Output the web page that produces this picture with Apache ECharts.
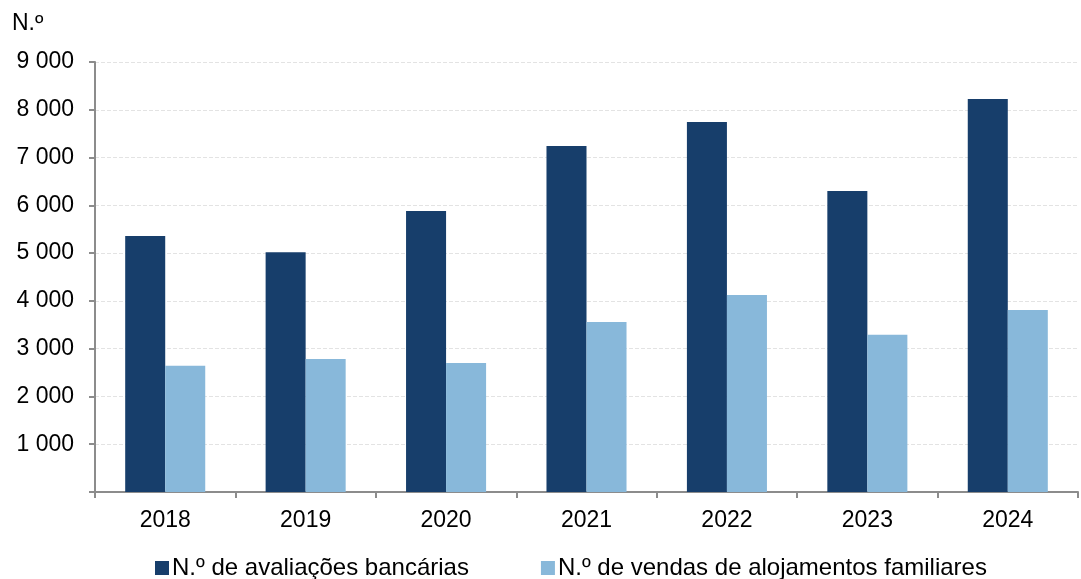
<!DOCTYPE html>
<html>
<head>
<meta charset="utf-8">
<script src="https://cdn.jsdelivr.net/npm/echarts@6/dist/echarts.min.js"></script>
<style>
  html, body { margin: 0; padding: 0; background: #fff; }
  #chart { width: 1081px; height: 579px; }
</style>
</head>
<body>
<div id="chart"></div>
<script>
// Years on the category axis
const years = ['2018', '2019', '2020', '2021', '2022', '2023', '2024'];
// Number of bank valuations per year
const avaliacoes = [5360, 5020, 5880, 7240, 7745, 6300, 8225];
// Number of family dwelling sales per year
const vendas = [2640, 2785, 2700, 3560, 4125, 3290, 3810];
// Series names shown in the legend
const seriesNames = ['N.º de avaliações bancárias', 'N.º de vendas de alojamentos familiares'];
// Unit label above the value axis
const unitLabel = 'N.º';

const fontFamily = 'Liberation Sans, Arial, sans-serif';

function fmtThousands(v) {
  if (v === 0) return '';
  return String(v).replace(/\B(?=(\d{3})+(?!\d))/g, ' ');
}

const chart = echarts.init(document.getElementById('chart'));
chart.setOption({
  animation: false,
  textStyle: { fontFamily: fontFamily },
  title: {
    text: unitLabel,
    left: 12,
    top: 12,
    padding: 0,
    textStyle: { fontSize: 23, fontWeight: 'normal', color: '#000', fontFamily: fontFamily }
  },
  grid: { left: 95, right: 3, top: 62, bottom: 87, containLabel: false },
  legend: {
    top: 556,
    left: 155,
    padding: 0,
    itemGap: 72,
    itemWidth: 14,
    itemHeight: 14,
    icon: 'rect',
    textStyle: { fontSize: 24, color: '#000', fontFamily: fontFamily, padding: [0, 0, 0, -2] },
    data: seriesNames
  },
  xAxis: {
    type: 'category',
    data: years,
    axisLine: { lineStyle: { color: '#8c8c8c', width: 2 } },
    axisTick: { show: true, length: 6, alignWithLabel: false, lineStyle: { color: '#8c8c8c', width: 2 } },
    axisLabel: { fontSize: 23, color: '#000', margin: 17 }
  },
  yAxis: {
    type: 'value',
    min: 0,
    max: 9000,
    interval: 1000,
    axisLine: { show: true, lineStyle: { color: '#8c8c8c', width: 2 } },
    axisTick: { show: true, length: 6, lineStyle: { color: '#8c8c8c', width: 2 } },
    axisLabel: { fontSize: 23, color: '#000', margin: 21, formatter: fmtThousands },
    splitLine: { show: true, lineStyle: { color: '#e3e3e3', type: [4, 2], width: 1 } }
  },
  series: [
    {
      name: seriesNames[0],
      type: 'bar',
      data: avaliacoes,
      barGap: '0%',
      barCategoryGap: '43%',
      itemStyle: { color: '#173e6b' }
    },
    {
      name: seriesNames[1],
      type: 'bar',
      data: vendas,
      barGap: '0%',
      barCategoryGap: '43%',
      itemStyle: { color: '#88b8da' }
    }
  ]
});
</script>
</body>
</html>
